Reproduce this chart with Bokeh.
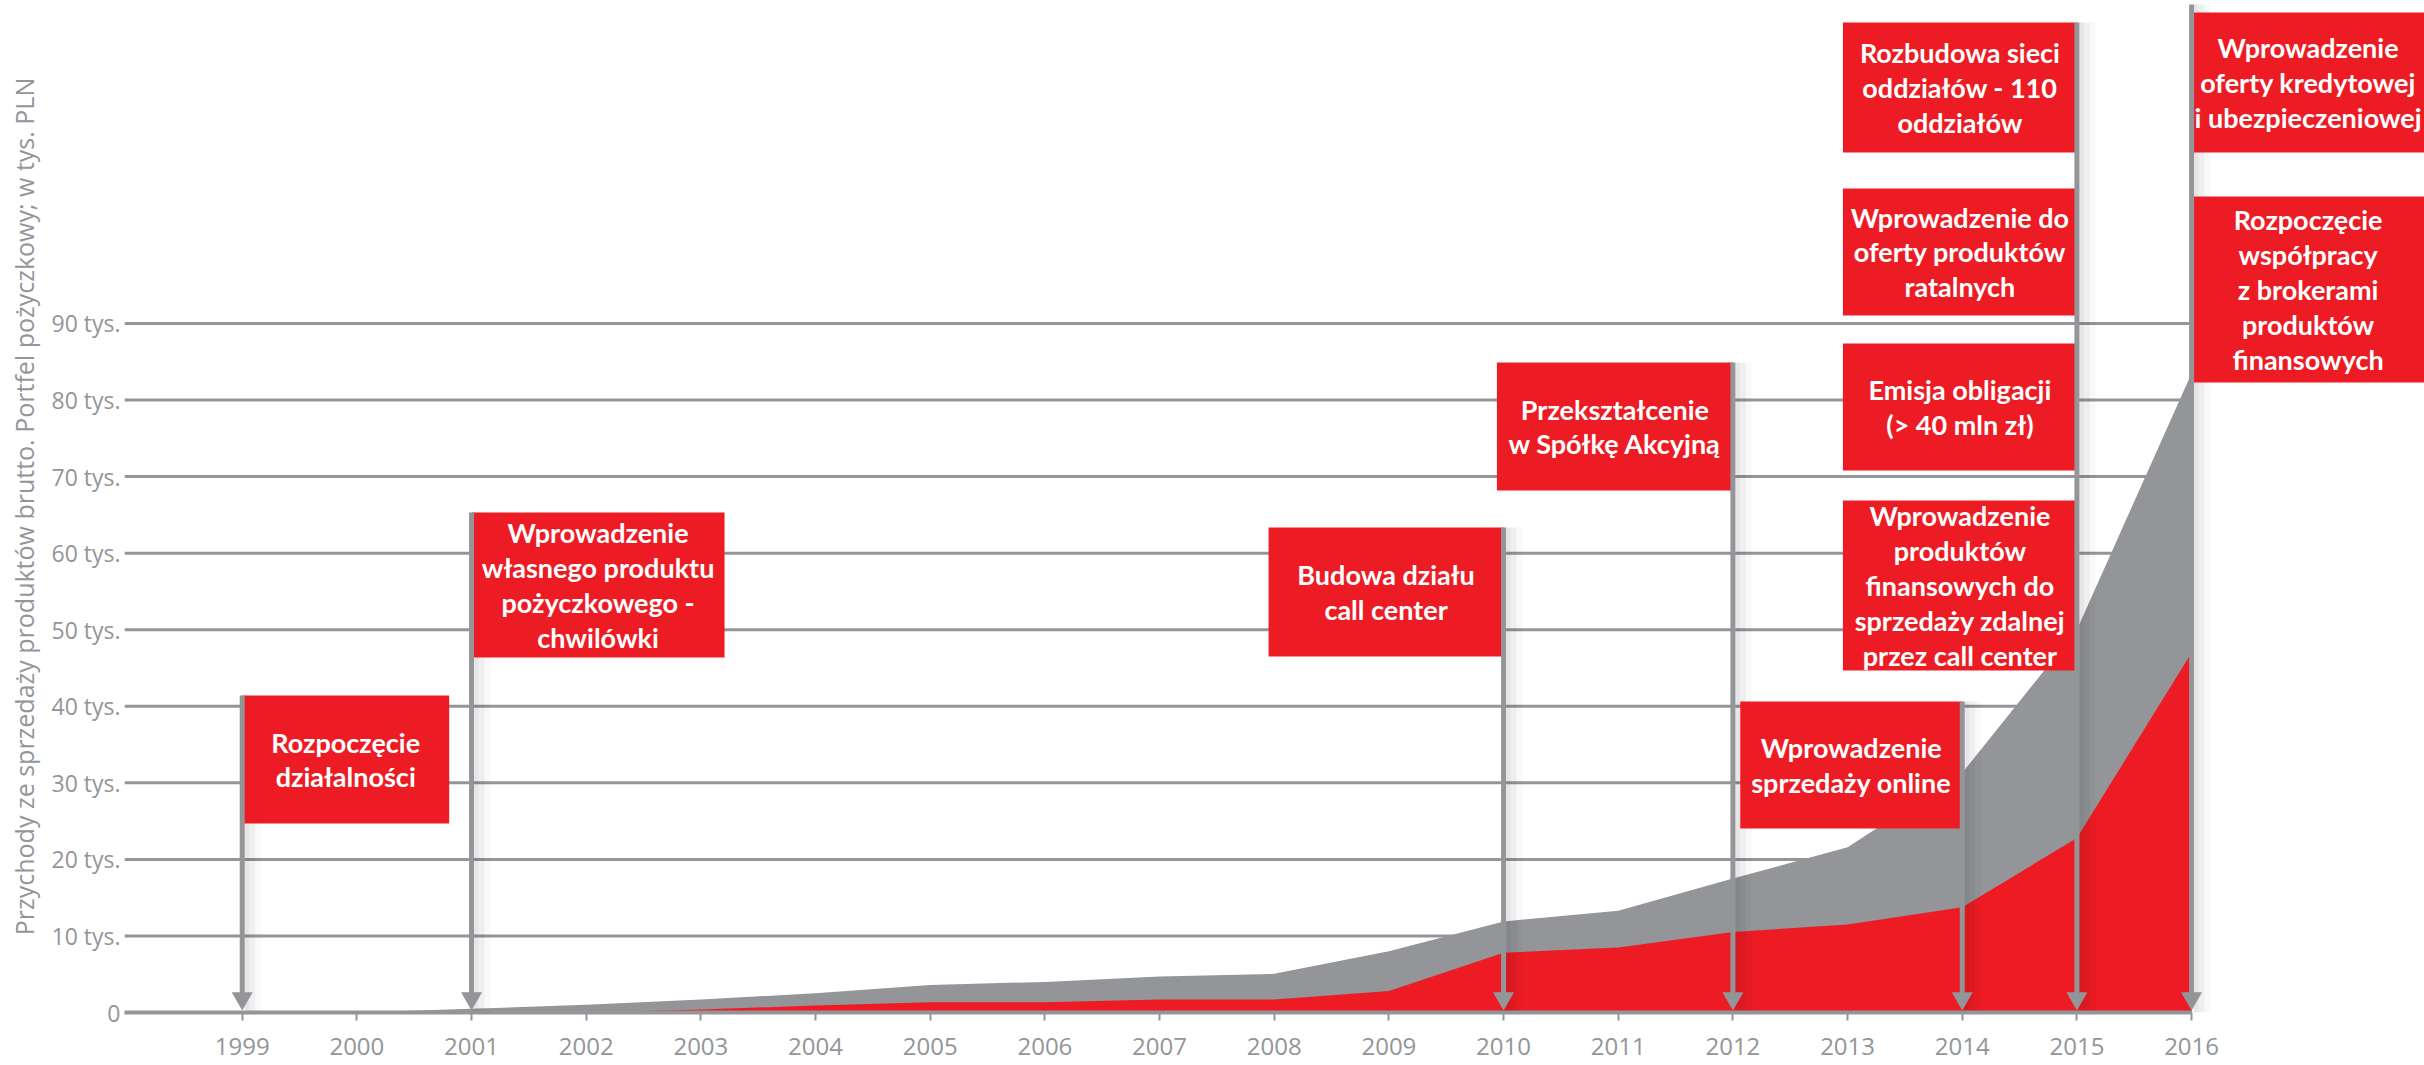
from bokeh.plotting import figure
from bokeh.models import Range1d, FixedTicker
from bokeh.embed import file_html
from bokeh.resources import INLINE
from bokeh.core.properties import value

# ---------------- data ----------------
years = list(range(1999, 2017))
# Portfel pożyczkowy (grey), tys. PLN
portfolio = [0, 0, 0.5, 1.0, 1.7, 2.5, 3.6, 4.0, 4.7, 5.05, 8.0, 11.9, 13.3, 17.5, 21.6, 31.3, 50.0, 83.5]
# Przychody ze sprzedaży produktów brutto (red), tys. PLN
revenue = [0, 0, 0, 0, 0.4, 0.9, 1.35, 1.35, 1.7, 1.7, 2.8, 7.8, 8.5, 10.5, 11.5, 13.75, 22.8, 47.0]

y_ticks = [0, 10, 20, 30, 40, 50, 60, 70, 80, 90]
y_tick_labels = ["0", "10 tys.", "20 tys.", "30 tys.", "40 tys.", "50 tys.",
                 "60 tys.", "70 tys.", "80 tys.", "90 tys."]
y_axis_title = "Przychody ze sprzedaży produktów brutto. Portfel pożyczkowy; w tys. PLN"

event_years = [1999, 2001, 2010, 2012, 2014, 2015, 2015, 2015, 2015, 2016, 2016]
event_texts = [
    "Rozpoczęcie\ndziałalności",
    "Wprowadzenie\nwłasnego produktu\npożyczkowego -\nchwilówki",
    "Budowa działu\ncall center",
    "Przekształcenie\nw Spółkę Akcyjną",
    "Wprowadzenie\nsprzedaży online",
    "Rozbudowa sieci\noddziałów - 110\noddziałów",
    "Wprowadzenie do\noferty produktów\nratalnych",
    "Emisja obligacji\n(> 40 mln zł)",
    "Wprowadzenie\nproduktów\nfinansowych do\nsprzedaży zdalnej\nprzez call center",
    "Wprowadzenie\noferty kredytowej\ni ubezpieczeniowej",
    "Rozpoczęcie\nwspółpracy\nz brokerami\nproduktów\nfinansowych",
]

# ---------------- layout (canvas pixels) ----------------
W, H = 2424, 1065
FRAME_LEFT = 124          # x of frame left
ZERO_Y = 1012             # y of value 0
PX_PER_YEAR = 114.67
PX_PER_K = 7.656
X0 = 1999 - (241.7 - FRAME_LEFT) / PX_PER_YEAR
X1 = X0 + (W - FRAME_LEFT) / PX_PER_YEAR
Y1 = ZERO_Y / PX_PER_K

def px_year(dpx):
    return dpx / PX_PER_YEAR

def py_k(py):
    return (ZERO_Y - py) / PX_PER_K

# box layout: side of pole, top px, bottom px, width px
box_side = ["right", "right", "left", "left", "left", "left", "left", "left", "left", "right", "right"]
box_top_px = [695, 512, 527, 362, 701, 22, 188, 343, 500, 12, 196]
box_bot_px = [823, 657, 656, 490, 828, 152, 315, 470, 670, 152, 382]
box_w_px = [207, 253, 235, 236, 222, 234, 234, 234, 234, 233, 233]

pole_years = [1999, 2001, 2010, 2012, 2014, 2015, 2016]
pole_top_px = [695, 512, 527, 362, 701, 22, 4]

GRAY = "#939598"
RED = "#ED1C24"

p = figure(width=W, height=H, output_backend="svg", toolbar_location=None,
           x_range=Range1d(X0, X1), y_range=Range1d(0, Y1),
           min_border_left=FRAME_LEFT, min_border_right=0,
           min_border_top=0, min_border_bottom=H - ZERO_Y)
p.outline_line_color = None
p.xgrid.grid_line_color = None
p.ygrid.grid_line_color = None
p.background_fill_color = "white"
p.border_fill_color = "white"

# gridlines
p.segment(x0=[X0] * 9, x1=[2016] * 9, y0=y_ticks[1:], y1=y_ticks[1:],
          line_color=GRAY, line_width=3)

# areas
p.varea(x=years, y1=[0] * len(years), y2=portfolio, fill_color=GRAY)
p.varea(x=years, y1=[0] * len(years), y2=revenue, fill_color=RED)

# pole shadows
for off, w, a in [(4, 6, 0.06), (8, 10, 0.04), (13, 12, 0.025)]:
    p.segment(x0=[y + px_year(off) for y in pole_years],
              x1=[y + px_year(off) for y in pole_years],
              y0=[0] * len(pole_years), y1=[py_k(t) for t in pole_top_px],
              line_color="black", line_alpha=a, line_width=w)

# boxes
lefts, rights, tops, bots, cx, cy = [], [], [], [], [], []
for yr, side, t, b, w in zip(event_years, box_side, box_top_px, box_bot_px, box_w_px):
    if side == "left":
        l, r = yr - px_year(w), yr
    else:
        l, r = yr, yr + px_year(w)
    lefts.append(l); rights.append(r)
    tops.append(py_k(t)); bots.append(py_k(b))
    cx.append((l + r) / 2); cy.append((py_k(t) + py_k(b)) / 2)

p.quad(left=lefts, right=rights, top=tops, bottom=bots, fill_color=RED, line_color=None)
p.text(x=cx, y=cy, text=event_texts, text_align="center", text_baseline="middle",
       text_font=value("Lato"), text_font_style="bold", text_font_size="27px",
       text_color="white", text_line_height=1.06)

# poles + arrowheads
ARROW_K = py_k(ZERO_Y - 2 - 0.577 * 21)
p.segment(x0=pole_years, x1=pole_years, y0=[ARROW_K] * len(pole_years),
          y1=[py_k(t) for t in pole_top_px], line_color=GRAY, line_width=5)
p.scatter(x=pole_years, y=[ARROW_K] * len(pole_years), marker="inverted_triangle",
          size=21, fill_color=GRAY, line_color=None)

# x axis
xa = p.xaxis[0]
xa.ticker = FixedTicker(ticks=years)
xa.bounds = (X0, 2016)
xa.axis_line_color = GRAY
xa.axis_line_width = 4
xa.major_tick_line_color = GRAY
xa.major_tick_line_width = 2
xa.major_tick_in = 0
xa.major_tick_out = 8
xa.minor_tick_line_color = None
xa.major_label_text_font = "Open Sans"
xa.major_label_text_font_size = "24px"
xa.major_label_text_color = GRAY
xa.major_label_standoff = 17

# y axis
ya = p.yaxis[0]
ya.ticker = FixedTicker(ticks=y_ticks)
ya.major_label_overrides = {t: s for t, s in zip(y_ticks, y_tick_labels)}
ya.axis_line_color = None
ya.major_tick_line_color = None
ya.major_tick_in = 0
ya.major_tick_out = 0
ya.minor_tick_line_color = None
ya.major_label_standoff = 4
ya.major_label_text_font = "Open Sans"
ya.major_label_text_font_size = "23px"
ya.major_label_text_color = GRAY
ya.axis_label = y_axis_title
ya.axis_label_text_font = "Open Sans"
ya.axis_label_text_font_style = "normal"
ya.axis_label_text_font_size = "25px"
ya.axis_label_text_color = GRAY
ya.axis_label_standoff = 8

open("out.html", "w").write(file_html(p, INLINE))
